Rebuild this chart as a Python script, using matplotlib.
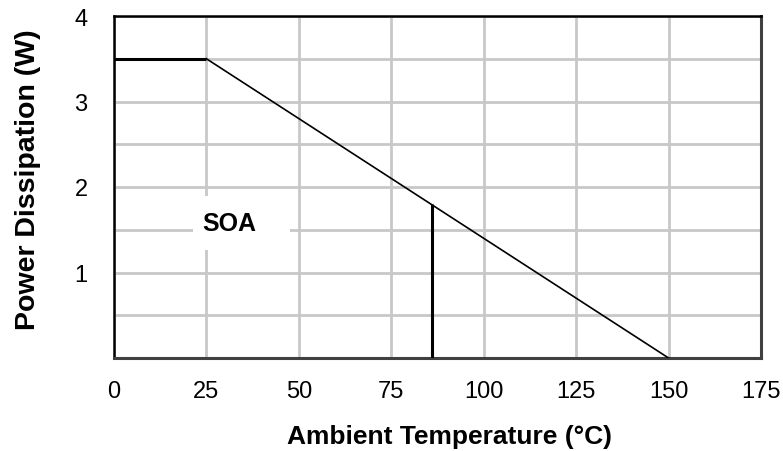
import numpy as np
import matplotlib
matplotlib.use('Agg')
import matplotlib.pyplot as plt
from matplotlib.patches import Rectangle

plt.rcParams['font.family'] = ['Liberation Sans', 'DejaVu Sans']

# derating curve: power dissipation vs ambient temperature
tempPoints = [0, 25, 150]
powerPoints = [3.5, 3.5, 0]

# marker line at the operating temperature
markerTemp = [86, 86]
markerPower = [0, 1.8]

xTicks = [0, 25, 50, 75, 100, 125, 150, 175]
yTicks = [1, 2, 3, 4]
yGrid = [0.5, 1.0, 1.5, 2.0, 2.5, 3.0, 3.5]

fig = plt.figure(figsize=(7.83, 4.52), dpi=100)
ax = fig.add_axes([114 / 783, 1 - 359 / 452, (761 - 114) / 783, (359 - 17) / 452])

ax.set_xlim(0, 175)
ax.set_ylim(0, 4)

# grid lines (drawn under the curve)
ax.set_xticks(xTicks)
ax.set_yticks(yTicks)
ax.set_yticks(yGrid, minor=True)
ax.grid(True, which='both', color='#c8c8c8', linewidth=2)
ax.set_axisbelow(True)
ax.tick_params(which='both', length=0)
ax.tick_params(axis='x', pad=16, labelsize=17)
ax.tick_params(axis='y', pad=19, labelsize=17)

# white box behind the SOA label, it cuts the grid
ax.add_patch(Rectangle((21.3, 1.26), 26.2, 0.635, facecolor='white', edgecolor='none', zorder=1))

# flat part and the slope
ax.plot(tempPoints[:2], powerPoints[:2], color='black', linewidth=2.2, solid_capstyle='butt', zorder=3)
ax.plot(tempPoints[1:], powerPoints[1:], color='black', linewidth=1.2, zorder=3)
ax.plot(markerTemp, markerPower, color='black', linewidth=2.2, solid_capstyle='butt', zorder=3)

ax.text(31.2, 1.58, 'SOA', fontsize=18, fontweight='bold', ha='center', va='center', zorder=4)

for side in ['left', 'top']:
    ax.spines[side].set_color('black')
    ax.spines[side].set_linewidth(1.8)
for side in ['bottom', 'right']:
    ax.spines[side].set_color('#404040')
    ax.spines[side].set_linewidth(2.2)

ax.set_xlabel('Ambient Temperature (°C)', fontsize=19, fontweight='bold', va='center')
ax.xaxis.set_label_coords((449.5 - 114) / (761 - 114), -(437 - 359) / (359 - 17))
ax.set_ylabel('Power Dissipation (W)', fontsize=20.5, fontweight='bold', va='center')
ax.yaxis.set_label_coords(-(114 - 28) / (761 - 114), (359 - 180) / (359 - 17))

fig.savefig('out.png', dpi=100)
